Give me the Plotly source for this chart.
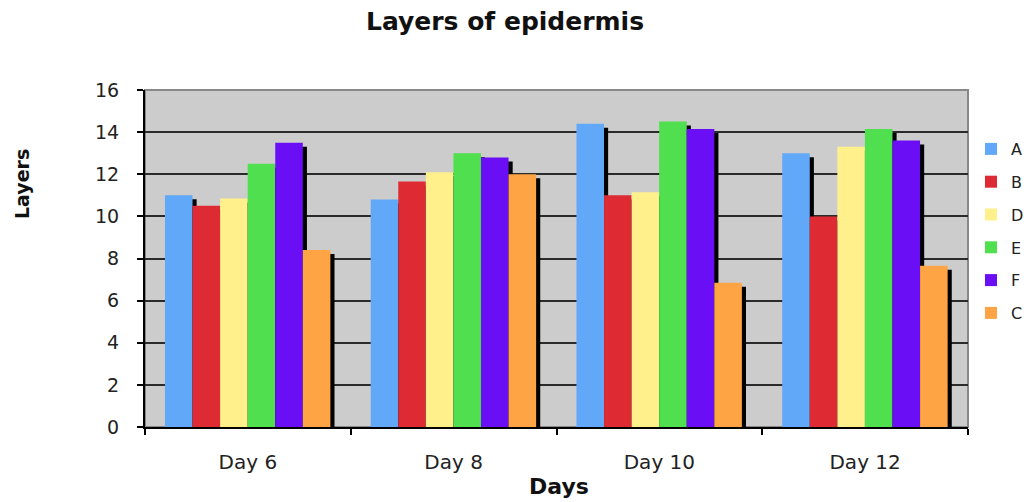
import plotly.graph_objects as go

categories = ["Day 6", "Day 8", "Day 10", "Day 12"]
series_names = ["A", "B", "D", "E", "F", "C"]
A = [11.0, 10.8, 14.4, 13.0]
B = [10.5, 11.65, 11.0, 10.0]
D = [10.85, 12.1, 11.15, 13.3]
E = [12.5, 13.0, 14.5, 14.15]
F = [13.5, 12.8, 14.15, 13.6]
C = [8.4, 12.0, 6.85, 7.65]
values = [A, B, D, E, F, C]
colors = ["#62a8f8", "#dd2a33", "#fff08c", "#4fdf4f", "#6a0ff5", "#ffa444"]

bar_w = 0.134
start = -0.403
shadow_dx = 0.02
shadow_dy = 0.19

fig = go.Figure()
for i, (name, vals) in enumerate(zip(series_names, values)):
    fig.add_trace(go.Bar(
        x=categories, y=[v - shadow_dy for v in vals],
        offset=start + i * bar_w + shadow_dx, width=bar_w,
        marker=dict(color="black", line=dict(width=0)),
        showlegend=False, hoverinfo="skip"))
for i, (name, vals) in enumerate(zip(series_names, values)):
    fig.add_trace(go.Bar(
        x=categories, y=vals, name=name, legendgroup=name,
        offset=start + i * bar_w, width=bar_w,
        marker=dict(color=colors[i], line=dict(width=0))))

font = "DejaVu Sans, Verdana, sans-serif"
W, H = 1029, 502
L, T, R, B_ = 145, 90, 61, 75
PH = H - T - B_
PW = W - L - R
fig.update_layout(
    barmode="overlay",
    width=W, height=H,
    margin=dict(l=L, r=R, t=T, b=B_, autoexpand=False),
    paper_bgcolor="white",
    plot_bgcolor="#cccccc",
    font=dict(family=font, size=19, color="#222222"),
    title=dict(text="<b>Layers of epidermis</b>", xref="container", x=505 / W, xanchor="center",
               yref="container", y=1 - 21 / H, yanchor="middle",
               font=dict(family=font, size=25, color="#111111")),
    legend=dict(xref="container", yref="container", x=1.0, y=1 - 132 / H,
                xanchor="right", yanchor="top",
                font=dict(family=font, size=16, color="#222222"), tracegroupgap=9,
                itemwidth=30, bgcolor="rgba(0,0,0,0)"),
    xaxis=dict(showline=True, linecolor="black", linewidth=2,
               ticks="outside", tickson="boundaries", ticklen=6, tickcolor="black",
               tickwidth=2, showgrid=False, ticklabelstandoff=16,
               tickfont=dict(size=20)),
    yaxis=dict(range=[0, 16], dtick=2, showline=True, linecolor="black", linewidth=2,
               ticks="outside", ticklen=6, tickcolor="black", tickwidth=2,
               gridcolor="#2a2a2a", gridwidth=2, zeroline=False, ticklabelstandoff=14),
)
fig.add_shape(type="rect", xref="paper", yref="paper", x0=0, x1=1, y0=0, y1=1,
              line=dict(color="#888888", width=2), layer="below")
fig.add_annotation(text="<b>Days</b>", xref="paper", x=(559 - L) / PW, yref="paper",
                   y=(427 - 486) / PH, yanchor="middle", showarrow=False,
                   font=dict(family=font, size=22, color="#111111"))
fig.add_annotation(text="<b>Layers</b>", xref="paper", x=(22 - L) / PW, xanchor="center",
                   yref="paper", y=(427 - 184) / PH, yanchor="middle", textangle=-90,
                   showarrow=False, font=dict(family=font, size=19, color="#111111"))
fig.write_html("out.html", config={"displayModeBar": False},
               post_script="document.body.style.margin='0';")
